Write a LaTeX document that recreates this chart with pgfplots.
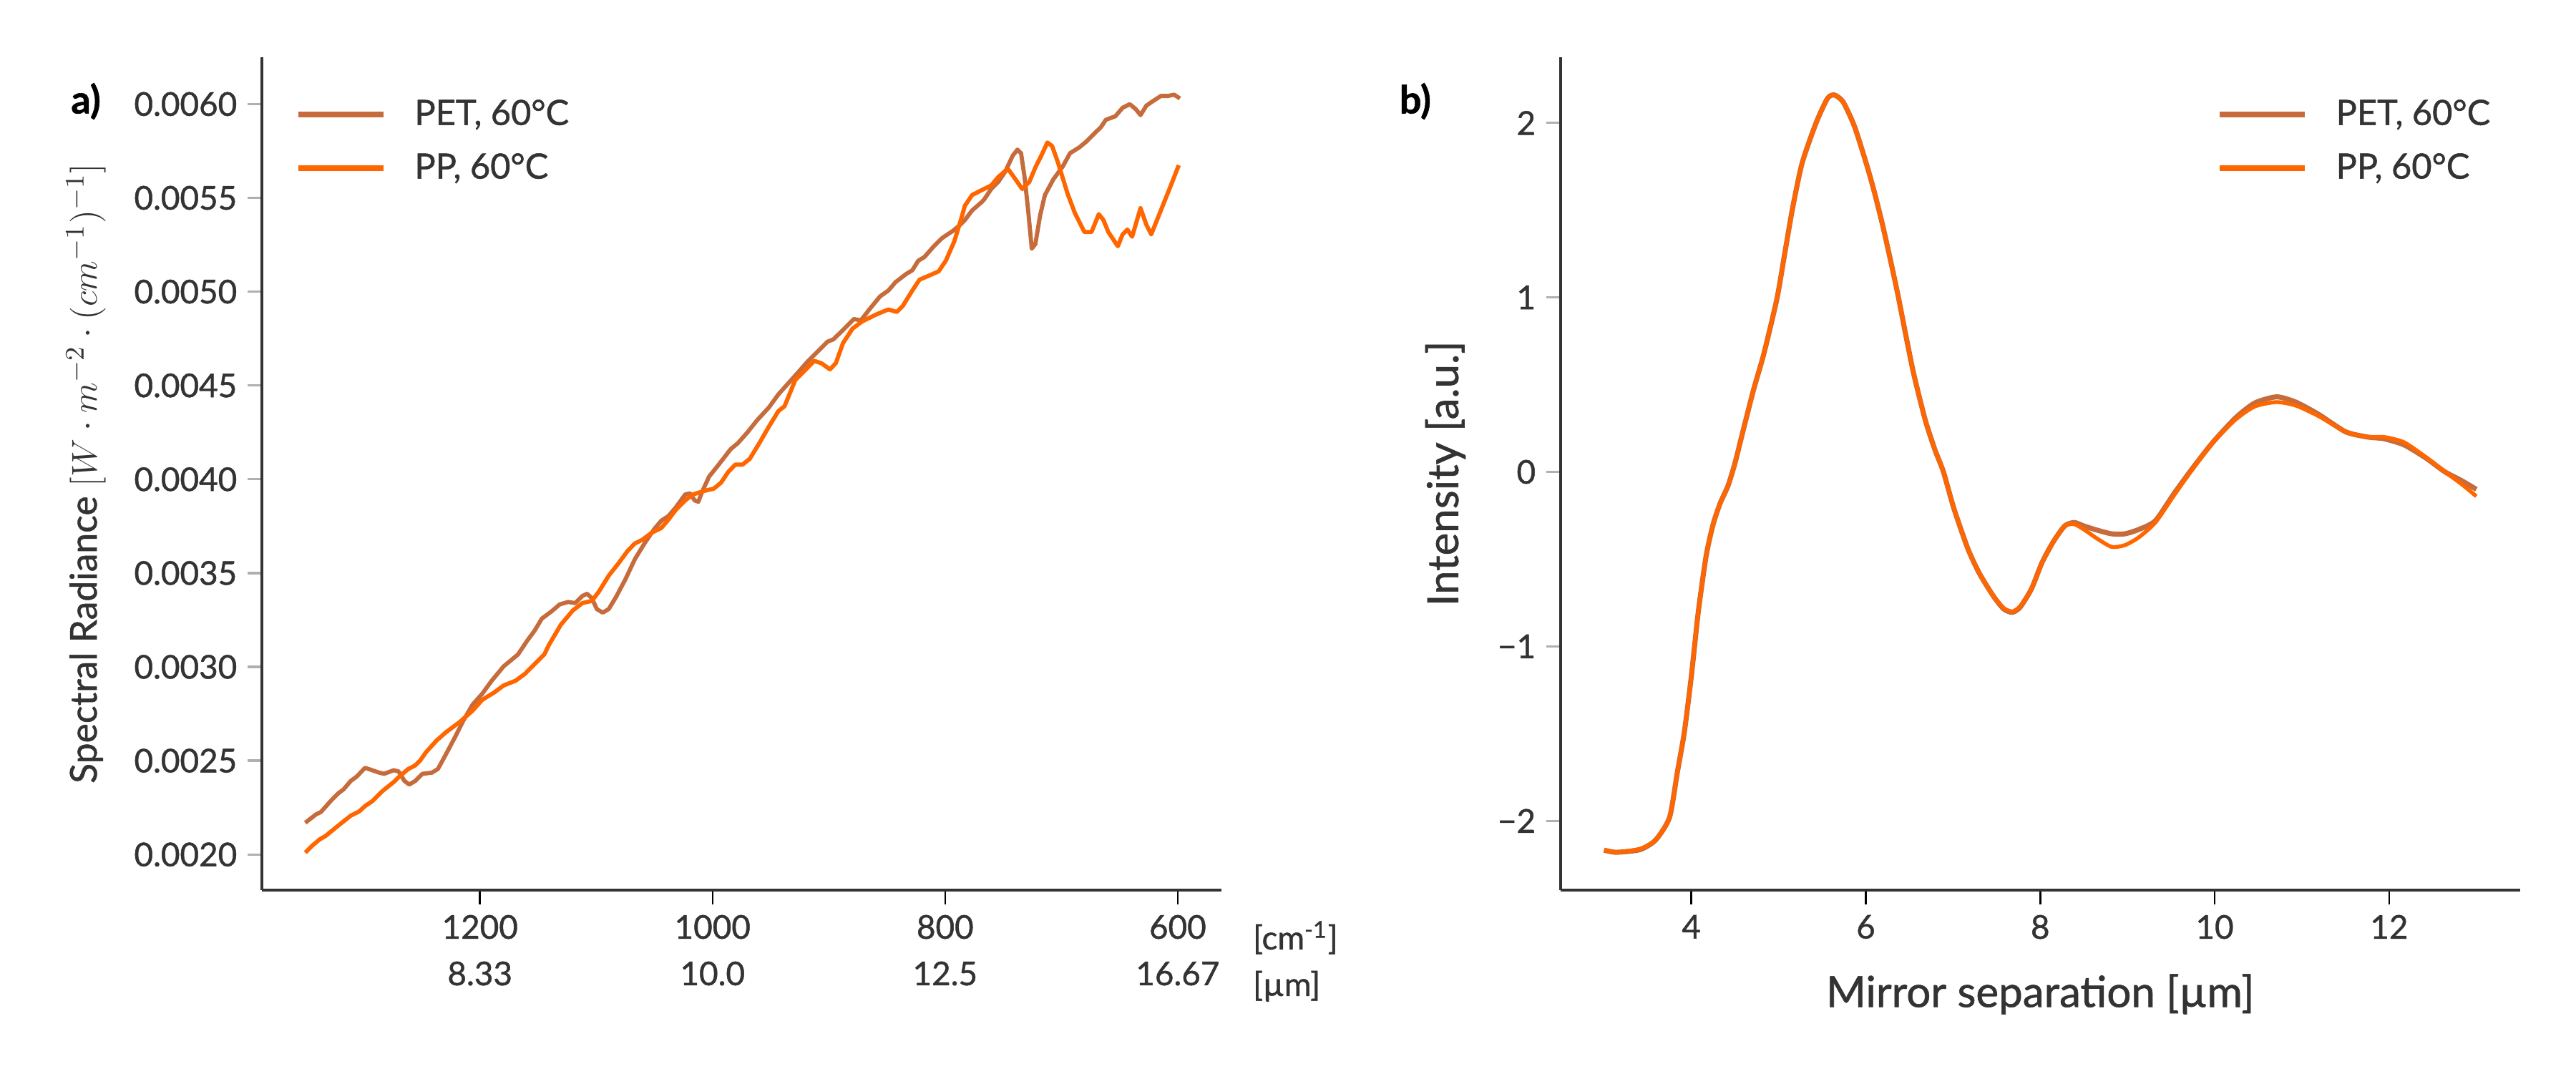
\documentclass[border=0pt]{standalone}
\usepackage{fontspec}
\setmainfont{Lato}[FakeBold=1.0]
\usepackage{pgfplots}
\pgfplotsset{compat=1.18}
\definecolor{petc}{RGB}{198,108,60}
\definecolor{ppc}{RGB}{255,102,0}
\definecolor{txt}{RGB}{51,51,51}
\definecolor{tickgray}{RGB}{176,176,176}
\pgfplotsset{myax/.style={scale only axis, width=321.8pt, height=279.4pt,
  axis x line*=bottom, axis y line*=left,
  axis line style={draw=txt, line width=0.8pt},
  tick align=outside, major tick length=4.8pt,
  xtick style={draw=black, line width=0.6pt},
  ytick style={draw=tickgray, line width=0.8pt},
  tick label style={font=\fontsize{11}{13}\selectfont, text=txt},
  /pgf/number format/assume math mode=true, clip=false,
  legend image code/.code={\draw[#1, line width=2pt] (0pt,0pt) -- (28.6pt,0pt);},
  legend cell align=left,
  legend style={draw=none, fill=none, inner sep=0pt, row sep=5pt, column sep=0pt,
     font=\fontsize{11.7}{13}\selectfont, text=txt,
     nodes={inner sep=1.5pt}},
}}
\begin{document}
\begin{tikzpicture}
\path[use as bounding box] (0,0) rectangle (864pt,360pt);
% ---------------- panel a ----------------
\begin{axis}[myax, at={(87.84pt,61.44pt)}, anchor=south west,
  x dir=reverse, xmin=562.5, xmax=1387.5, ymin=0.00181, ymax=0.00625,
  xtick={1200,1000,800,600},
  xticklabels={{1200\\8.33},{1000\\10.0},{800\\12.5},{600\\16.67}},
  xticklabel style={align=center, font=\fontsize{11}{15.6}\selectfont},
  ytick={0.0020,0.0025,0.0030,0.0035,0.0040,0.0045,0.0050,0.0055,0.0060},
  yticklabels={0.0020,0.0025,0.0030,0.0035,0.0040,0.0045,0.0050,0.0055,0.0060},
  scaled y ticks=false,
  ylabel={Spectral Radiance $[W\cdot m^{-2}\cdot (cm^{-1})^{-1}]$},
  ylabel style={at={(axis description cs:-0.1833,0.5)}, anchor=center, font=\fontsize{12.4}{14}\selectfont, text=txt},
  legend style={at={(axis description cs:0.034,0.955)}, anchor=north west},
]
\addplot[petc, line width=1.4pt, line join=round] coordinates {
(1350.2,0.002169)(1340.9,0.002214)(1336.8,0.002226)(1327.6,0.002290)(1321.4,0.002328)
(1317.3,0.002347)(1311.1,0.002392)(1306.0,0.002415)(1298.8,0.002462)(1292.6,0.002449)
(1286.5,0.002436)(1282.4,0.002430)(1274.2,0.002449)(1270.0,0.002443)(1264.9,0.002392)
(1260.8,0.002373)(1255.6,0.002392)(1249.5,0.002430)(1241.3,0.002436)(1236.1,0.002456)
(1228.9,0.002538)(1220.7,0.002634)(1214.6,0.002710)(1206.3,0.002799)(1198.1,0.002856)
(1189.9,0.002926)(1179.6,0.003003)(1167.3,0.003066)(1159.1,0.003142)(1153.0,0.003193)
(1146.8,0.003257)(1138.6,0.003295)(1131.4,0.003333)(1124.2,0.003346)(1118.0,0.003340)
(1111.9,0.003378)(1107.8,0.003390)(1103.7,0.003365)(1099.5,0.003308)(1094.4,0.003289)
(1089.3,0.003308)(1083.1,0.003371)(1074.9,0.003467)(1066.7,0.003575)(1058.5,0.003658)
(1050.2,0.003734)(1044.1,0.003779)(1037.9,0.003804)(1031.7,0.003849)(1023.5,0.003919)
(1019.4,0.003925)(1015.3,0.003887)(1012.2,0.003880)(1009.1,0.003931)(1003.0,0.004014)
(994.7,0.004078)(984.5,0.004160)(978.3,0.004192)(970.1,0.004249)(961.9,0.004313)
(951.5,0.004383)(943.3,0.004453)(935.1,0.004510)(926.8,0.004567)(918.6,0.004625)
(910.4,0.004676)(901.2,0.004733)(896.0,0.004746)(887.8,0.004796)(878.5,0.004854)
(872.4,0.004847)(865.2,0.004905)(855.9,0.004975)(848.8,0.005006)(842.6,0.005051)
(833.3,0.005095)(828.2,0.005114)(823.1,0.005165)(817.9,0.005184)(809.7,0.005242)
(802.5,0.005286)(793.3,0.005324)(787.1,0.005356)(783.0,0.005382)(776.8,0.005433)
(768.6,0.005477)(766.6,0.005490)(760.4,0.005547)(754.3,0.005585)(748.1,0.005642)
(741.9,0.005725)(737.8,0.005757)(734.7,0.005738)(731.7,0.005611)(728.6,0.005433)
(725.5,0.005229)(722.4,0.005254)(718.3,0.005407)(714.2,0.005515)(707.0,0.005598)
(698.8,0.005668)(692.6,0.005738)(684.4,0.005770)(678.2,0.005802)(672.1,0.005840)
(665.9,0.005878)(661.8,0.005916)(653.6,0.005935)(647.4,0.005980)(641.2,0.005999)
(636.1,0.005973)(632.0,0.005941)(626.9,0.005992)(620.7,0.006018)(614.5,0.006043)
(608.4,0.006043)(603.2,0.006050)(598.1,0.006030)
};
\addlegendentry{\hspace{8pt}PET, 60°C}
\addplot[ppc, line width=1.4pt, line join=round] coordinates {
(1350.2,0.002010)(1344.0,0.002048)(1337.9,0.002080)(1332.7,0.002099)(1321.4,0.002156)
(1311.1,0.002207)(1303.9,0.002229)(1298.8,0.002258)(1292.6,0.002284)(1284.4,0.002335)
(1274.2,0.002386)(1269.0,0.002417)(1261.8,0.002455)(1255.6,0.002475)(1251.5,0.002500)
(1246.4,0.002545)(1237.2,0.002608)(1228.9,0.002653)(1216.6,0.002710)(1206.3,0.002767)
(1198.1,0.002824)(1187.9,0.002863)(1179.6,0.002901)(1169.4,0.002926)(1161.1,0.002964)
(1153.0,0.003015)(1144.7,0.003066)(1140.7,0.003117)(1130.4,0.003225)(1120.1,0.003301)
(1111.9,0.003340)(1103.7,0.003352)(1097.5,0.003403)(1089.3,0.003486)(1081.1,0.003550)
(1072.8,0.003620)(1066.7,0.003658)(1060.5,0.003677)(1052.3,0.003715)(1044.1,0.003740)
(1037.9,0.003785)(1031.7,0.003836)(1023.5,0.003887)(1017.3,0.003918)(1007.1,0.003938)
(998.9,0.003950)(992.7,0.003982)(986.5,0.004039)(980.4,0.004078)(974.2,0.004078)
(968.0,0.004109)(959.8,0.004192)(951.6,0.004280)(943.3,0.004364)(938.1,0.004389)
(933.0,0.004466)(928.9,0.004529)(920.7,0.004580)(912.5,0.004631)(906.3,0.004618)
(899.1,0.004586)(894.0,0.004618)(887.8,0.004726)(879.6,0.004803)(871.4,0.004841)
(859.0,0.004879)(848.8,0.004905)(841.6,0.004892)(836.4,0.004924)(828.2,0.005006)
(822.0,0.005064)(814.8,0.005083)(805.6,0.005108)(799.4,0.005165)(792.2,0.005267)
(787.1,0.005369)(783.0,0.005458)(776.8,0.005515)(768.6,0.005541)(760.4,0.005566)
(754.3,0.005611)(746.1,0.005655)(740.9,0.005611)(733.7,0.005547)(727.6,0.005585)
(722.4,0.005662)(717.3,0.005725)(712.1,0.005795)(708.0,0.005776)(702.9,0.005687)
(694.7,0.005522)(688.5,0.005420)(680.3,0.005318)(674.1,0.005318)(667.9,0.005413)
(663.9,0.005382)(659.7,0.005318)(651.5,0.005242)(647.4,0.005305)(643.3,0.005331)
(639.2,0.005293)(632.0,0.005445)(626.9,0.005356)(622.8,0.005305)(614.5,0.005433)
(606.3,0.005560)(599.1,0.005674)
};
\addlegendentry{\hspace{8pt}PP, 60°C}
\node[anchor=east, font=\bfseries\fontsize{13}{15}\selectfont, text=black] at (axis description cs:-0.157,0.947) {a)};
\node[anchor=base west, font=\fontsize{11}{13}\selectfont, text=txt, yshift=-19.9pt] at (axis description cs:1.022,0) {[cm\textsuperscript{-1}]};
\node[anchor=base west, font=\fontsize{11}{13}\selectfont, text=txt, yshift=-35.5pt] at (axis description cs:1.022,0) {[µm]};
\end{axis}
% ---------------- panel b ----------------
\begin{axis}[myax, at={(523.4pt,61.44pt)}, anchor=south west,
  xmin=2.5, xmax=13.5, ymin=-2.397, ymax=2.377,
  xtick={4,6,8,10,12}, ytick={-2,-1,0,1,2},
  yticklabels={−2,−1,0,1,2},
  xlabel={Mirror separation [µm]},
  xlabel style={at={(axis description cs:0.5,-0.125)}, anchor=center, font=\fontsize{14.4}{16}\selectfont, text=txt},
  ylabel={Intensity [a.u.]},
  ylabel style={at={(axis description cs:-0.120,0.5)}, anchor=center, font=\fontsize{14.4}{16}\selectfont, text=txt},
  legend style={at={(axis description cs:0.683,0.955)}, anchor=north west},
]
\addplot[petc, line width=1.7pt, smooth, tension=0.4, line join=round] coordinates {
(3.0,-2.168)(3.14,-2.18)(3.41,-2.165)(3.59,-2.11)(3.75,-1.98)(3.84,-1.72)(3.92,-1.49)
(4.00,-1.17)(4.08,-0.80)(4.17,-0.48)(4.25,-0.30)(4.33,-0.18)(4.42,-0.08)(4.50,0.05)
(4.58,0.21)(4.71,0.465)(4.83,0.675)(4.98,0.99)(5.07,1.25)(5.16,1.51)(5.27,1.77)
(5.43,2.00)(5.56,2.14)(5.64,2.16)(5.74,2.12)(5.87,1.98)(6.01,1.76)(6.10,1.60)
(6.19,1.42)(6.28,1.22)(6.37,1.01)(6.46,0.78)(6.55,0.56)(6.68,0.30)(6.79,0.13)
(6.89,0.00)(7.01,-0.21)(7.17,-0.44)(7.30,-0.58)(7.46,-0.71)(7.58,-0.785)(7.68,-0.805)
(7.77,-0.775)(7.90,-0.67)(8.02,-0.52)(8.15,-0.40)(8.28,-0.31)(8.39,-0.29)(8.50,-0.31)
(8.66,-0.335)(8.82,-0.355)(8.97,-0.355)(9.13,-0.33)(9.32,-0.28)(9.54,-0.12)(9.76,0.03)
(9.98,0.17)(10.24,0.31)(10.46,0.395)(10.71,0.43)(10.93,0.40)(11.19,0.33)(11.50,0.23)
(11.75,0.20)(11.94,0.19)(12.17,0.155)(12.42,0.08)(12.64,0.00)(12.83,-0.05)(13.0,-0.10)
};
\addlegendentry{\hspace{8pt}PET, 60°C}
\addplot[ppc, line width=1.3pt, smooth, tension=0.4, line join=round] coordinates {
(3.0,-2.165)(3.14,-2.18)(3.41,-2.16)(3.59,-2.11)(3.75,-1.98)(3.84,-1.72)(3.92,-1.49)
(4.00,-1.17)(4.08,-0.80)(4.17,-0.48)(4.25,-0.30)(4.33,-0.18)(4.42,-0.08)(4.50,0.05)
(4.58,0.21)(4.71,0.465)(4.83,0.675)(4.98,0.99)(5.07,1.25)(5.16,1.51)(5.27,1.77)
(5.43,2.00)(5.56,2.14)(5.64,2.16)(5.74,2.12)(5.87,1.98)(6.01,1.76)(6.10,1.60)
(6.19,1.42)(6.28,1.22)(6.37,1.01)(6.46,0.78)(6.55,0.56)(6.68,0.30)(6.79,0.13)
(6.89,0.00)(7.01,-0.21)(7.17,-0.44)(7.30,-0.58)(7.46,-0.71)(7.58,-0.78)(7.68,-0.80)
(7.77,-0.77)(7.90,-0.67)(8.02,-0.52)(8.15,-0.40)(8.28,-0.31)(8.39,-0.30)(8.50,-0.33)
(8.66,-0.385)(8.82,-0.43)(8.97,-0.42)(9.13,-0.375)(9.32,-0.29)(9.54,-0.13)(9.76,0.025)
(9.98,0.17)(10.24,0.30)(10.46,0.375)(10.71,0.40)(10.93,0.38)(11.19,0.32)(11.50,0.23)
(11.75,0.20)(11.94,0.20)(12.17,0.17)(12.42,0.085)(12.64,0.00)(12.83,-0.07)(13.0,-0.14)
};
\addlegendentry{\hspace{8pt}PP, 60°C}
\node[anchor=east, font=\bfseries\fontsize{13}{15}\selectfont, text=black] at (axis description cs:-0.124,0.947) {b)};
\end{axis}
\end{tikzpicture}
\end{document}
